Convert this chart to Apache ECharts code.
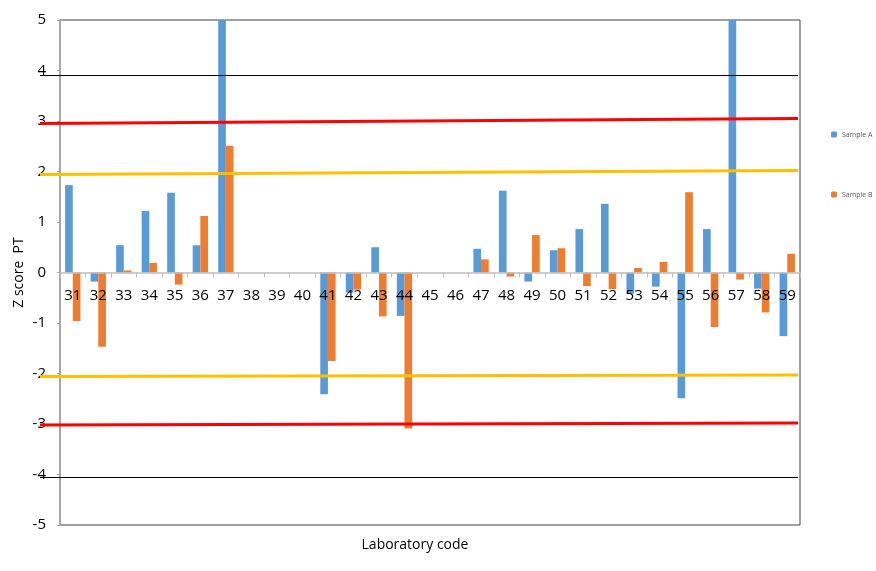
<!DOCTYPE html>
<html>
<head>
<meta charset="utf-8">
<script src="https://cdn.jsdelivr.net/npm/echarts@6/dist/echarts.min.js"></script>
<style>html,body{margin:0;padding:0;background:#fff}#c{width:876px;height:571px}</style>
</head>
<body>
<div id="c"></div>
<script>
const categories = ['31','32','33','34','35','36','37','38','39','40','41','42','43','44','45','46','47','48','49','50','51','52','53','54','55','56','57','58','59'];
const sampleA = [1.73,-0.18,0.54,1.22,1.58,0.54,5,null,null,null,-2.41,-0.40,0.50,-0.86,null,null,0.47,1.62,-0.18,0.44,0.86,1.36,-0.42,-0.28,-2.49,0.86,5,-0.32,-1.26];
const sampleB = [-0.96,-1.47,0.04,0.19,-0.24,1.12,2.51,null,null,null,-1.75,-0.34,-0.87,-3.09,null,null,0.26,-0.08,0.74,0.48,-0.27,-0.33,0.09,0.21,1.59,-1.08,-0.14,-0.79,0.37];
const yTicks = [-5,5,1];
const redUpper = [2.95,3.05];
const yellowUpper = [1.94,2.02];
const yellowLower = [-2.06,-2.03];
const redLower = [-3.02,-2.98];
const blackUpper = [3.90,3.90];
const blackLower = [-4.06,-4.06];
const limitX = [0,1];

const FONT = 'Open Sans';
const W = 876, H = 571, GL = 60, GR = 76, GT = 20, GB = 46;
// category axis sits at value 0: shift it up from the grid bottom
const plotH = H - GT - GB;
const zeroOffset = -plotH * (0 - yTicks[0]) / (yTicks[1] - yTicks[0]);

function lineData(v){ return [[limitX[0], v[0]],[limitX[1], v[1]]]; }
function limitSeries(name, v, color, width){
  return {name:name, type:'line', xAxisIndex:1, yAxisIndex:1, data:lineData(v), symbol:'none', silent:true,
    lineStyle:{color:color, width:width}, z:10};
}
const chart = echarts.init(document.getElementById('c'), null, {renderer:'canvas'});
chart.setOption({
  animation:false,
  textStyle:{fontFamily:FONT},
  title:{text:'Laboratory code', left:410, top:533, textAlign:'center',
    textStyle:{fontFamily:FONT, fontSize:14, fontWeight:'normal', color:'#000'}},
  legend:{orient:'vertical', left:831, top:131, padding:0, itemGap:53, itemWidth:6, itemHeight:6,
    data:['Sample A','Sample B'], textStyle:{fontSize:7, color:'#595959', fontFamily:FONT}},
  grid:[
    {left:GL, right:GR, top:GT, bottom:GB, show:true, borderColor:'#404040', borderWidth:1},
    {left:40, right:78, top:GT, bottom:GB}
  ],
  xAxis:[
    {type:'category', data:categories, gridIndex:0, position:'bottom', offset:zeroOffset, z:20,
      axisLine:{onZero:false, lineStyle:{color:'#bfbfbf', width:1.5}},
      axisTick:{show:true, inside:false, length:5, lineStyle:{color:'#bfbfbf'}},
      axisLabel:{fontSize:15, color:'#000', margin:16, fontFamily:FONT, interval:0}},
    {type:'value', gridIndex:1, min:0, max:1, show:false}
  ],
  yAxis:[
    {type:'value', gridIndex:0, min:yTicks[0], max:yTicks[1], interval:yTicks[2],
      name:'Z score  PT', nameLocation:'middle', nameGap:34, nameRotate:90, nameMoveOverlap:false,
      nameTextStyle:{fontSize:14, color:'#000', fontFamily:FONT},
      axisLine:{show:true, lineStyle:{color:'#a6a6a6', width:2}},
      axisTick:{show:true, length:3, lineStyle:{color:'#a6a6a6'}},
      splitLine:{show:false},
      axisLabel:{fontSize:15, color:'#000', margin:14, fontFamily:FONT}},
    {type:'value', gridIndex:1, min:yTicks[0], max:yTicks[1], show:false}
  ],
  series:[
    {name:'Sample A', type:'bar', data:sampleA, itemStyle:{color:'#5B9BD5'}, barGap:'0%', barCategoryGap:'40%', clip:true},
    {name:'Sample B', type:'bar', data:sampleB, itemStyle:{color:'#ED7D31'}, barGap:'0%', barCategoryGap:'40%', clip:true},
    limitSeries('blackUpper', blackUpper, '#000', 1),
    limitSeries('blackLower', blackLower, '#000', 1),
    limitSeries('redUpper', redUpper, '#FF0000', 3),
    limitSeries('redLower', redLower, '#FF0000', 3),
    limitSeries('yellowUpper', yellowUpper, '#FFC000', 3),
    limitSeries('yellowLower', yellowLower, '#FFC000', 3)
  ]
});
</script>
</body>
</html>
